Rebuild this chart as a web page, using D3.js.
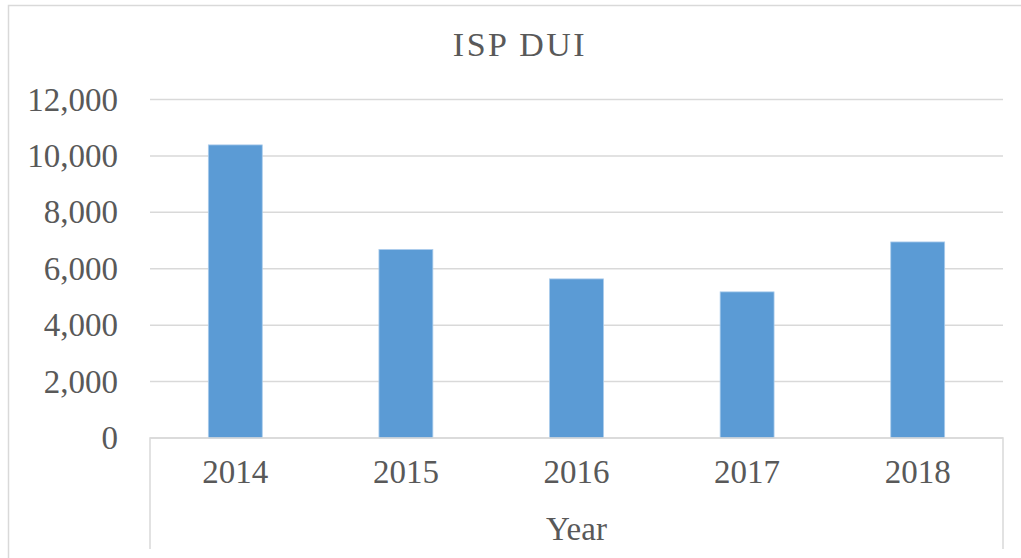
<!DOCTYPE html>
<html>
<head>
<meta charset="utf-8">
<script src="https://cdn.jsdelivr.net/npm/d3@7"></script>
<style>
  html, body { margin: 0; padding: 0; background: #fff; }
  svg { display: block; font-family: "Liberation Serif", "Times New Roman", serif; }
</style>
</head>
<body>
<div id="chart"></div>
<script>
// values
var years = ["2014", "2015", "2016", "2017", "2018"];
var duiCounts = [10390, 6680, 5640, 5180, 6950];
var yTicks = [0, 2000, 4000, 6000, 8000, 10000, 12000];

var W = 1021, H = 558;
var margin = { top: 99.5, right: 18, bottom: 120, left: 150 };
var textColor = "#595959", gridColor = "#d9d9d9", barColor = "#5b9bd5";

var svg = d3.select("#chart").append("svg")
	.attr("width", W)
	.attr("height", H);

// outer chart frame (only top and left show in the crop)
svg.append("path")
	.attr("d", "M8.5," + H + "V5.5H" + W)
	.style("fill", "none")
	.style("stroke", gridColor)
	.style("stroke-width", 1.5);

var x = d3.scaleBand()
	.domain(years)
	.range([margin.left, W - margin.right])
	.paddingInner(0.684)
	.paddingOuter(0.342);

var y = d3.scaleLinear()
	.domain([0, 12000])
	.range([H - margin.bottom, margin.top]);

// gridlines
svg.append("g").attr("class", "grid")
	.selectAll("line")
	.data(yTicks)
	.enter().append("line")
	.attr("x1", margin.left)
	.attr("x2", W - margin.right)
	.attr("y1", d => y(d))
	.attr("y2", d => y(d))
	.style("stroke", gridColor)
	.style("stroke-width", 1.5);

// y axis labels
var yAxis = d3.axisLeft(y)
	.tickValues(yTicks)
	.tickFormat(d3.format(","))
	.tickSize(0)
	.tickPadding(32);

var gy = svg.append("g")
	.attr("transform", "translate(" + margin.left + ",0)")
	.call(yAxis);
gy.select(".domain").remove();
gy.selectAll("text")
	.style("font-family", "Liberation Serif, serif")
	.style("font-size", "33px")
	.style("fill", textColor);

// bars
svg.append("g").attr("class", "bars")
	.selectAll("rect")
	.data(duiCounts)
	.enter().append("rect")
	.attr("x", (d, i) => x(years[i]))
	.attr("width", x.bandwidth())
	.attr("y", d => y(d))
	.attr("height", d => y(0) - y(d))
	.style("fill", barColor)
	.style("stroke", "#a9cbeb")
	.style("stroke-width", 0.8);

// category axis with its side lines
var baseY = y(0);
var xAxis = d3.axisBottom(x).tickSize(0).tickPadding(22);
var gx = svg.append("g")
	.attr("transform", "translate(0," + baseY + ")")
	.call(xAxis);
gx.select(".domain").remove();
gx.selectAll("text")
	.style("font-family", "Liberation Serif, serif")
	.style("font-size", "33px")
	.style("fill", textColor);

svg.append("path")
	.attr("d", "M" + margin.left + "," + (H - 9) + "V" + baseY + "H" + (W - margin.right) + "V" + (H - 9))
	.style("fill", "none")
	.style("stroke", gridColor)
	.style("stroke-width", 1.5);

// titles
svg.append("text")
	.attr("x", 520)
	.attr("y", 56)
	.attr("text-anchor", "middle")
	.style("font-size", "34px")
	.style("letter-spacing", "2.5px")
	.style("fill", textColor)
	.text("ISP DUI");

svg.append("text")
	.attr("x", (margin.left + W - margin.right) / 2)
	.attr("y", 540)
	.attr("text-anchor", "middle")
	.style("font-size", "33px")
	.style("fill", textColor)
	.text("Year");
</script>
</body>
</html>
